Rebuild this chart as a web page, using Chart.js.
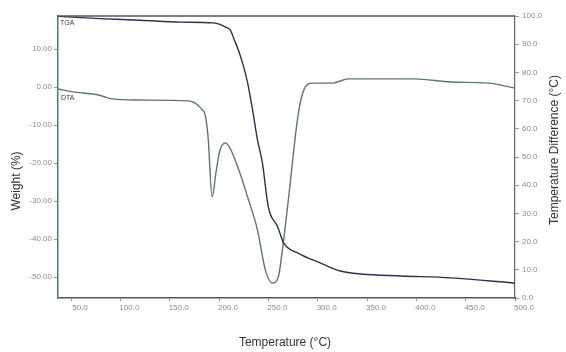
<!DOCTYPE html>
<html><head><meta charset="utf-8">
<script src="https://cdn.jsdelivr.net/npm/chart.js@4/dist/chart.umd.min.js"></script>
<style>html,body{margin:0;padding:0;background:#fff;}#wrap{position:relative;width:566px;height:352px;}</style>
</head><body><div id="wrap"><canvas id="c" width="566" height="352"></canvas></div>
<script>
// ---- data ----
const tgaTemp   = [37, 79.5, 120, 161, 194, 201, 206.5, 211.5, 215.5, 219.5, 225, 229, 234, 239, 244, 250, 259.5, 265.5, 280, 303, 323, 344, 384, 435, 500];
const tgaWeight = [18.6, 18.0, 17.6, 17.1, 16.9, 16.5, 15.8, 15.0, 12.4, 9.8, 5.3, 1.1, -6.0, -13.9, -20.0, -31.6, -36.8, -41.0, -43.7, -46.3, -48.4, -49.2, -49.7, -50.2, -51.6];
const dtaTemp   = [37, 54, 78, 92, 118, 169, 176, 183, 186, 189, 193, 197, 201, 206.5, 212, 221, 229, 239, 247, 254, 260, 265.5, 272.5, 277.5, 281, 286, 295, 315, 331, 364, 398, 435, 473, 499];
const dtaDiff   = [74.1, 73.0, 72.0, 70.6, 70.2, 69.9, 69.1, 66.7, 64.9, 56.7, 35.8, 44.7, 52.5, 55.0, 52.5, 44.5, 35.8, 24.1, 9.9, 5.3, 7.4, 20.6, 41.8, 57.8, 66.7, 73.8, 76.2, 76.2, 77.7, 77.7, 77.7, 76.6, 76.2, 74.5];
const tempTicks   = [50, 100, 150, 200, 250, 300, 350, 400, 450, 500];
const weightTicks = [10, 0, -10, -20, -30, -40, -50];
const diffTicks   = [0, 10, 20, 30, 40, 50, 60, 70, 80, 90, 100];
const seriesNames = ['TGA', 'DTA'];
const xTitle = 'Temperature (°C)';
const yTitle = 'Weight (%)';
const y1Title = 'Temperature Difference (°C)';

const FONT = '"Liberation Sans", Arial, sans-serif';
const toPts = (xs, ys) => xs.map((x, i) => ({x: x, y: ys[i]}));

const titlesPlugin = {
  id: 'titles',
  afterDraw(chart) {
    const ctx = chart.ctx, a = chart.chartArea;
    ctx.save();
    // top frame line
    ctx.strokeStyle = '#555'; ctx.lineWidth = 1.5;
    ctx.beginPath(); ctx.moveTo(a.left - 1, a.top); ctx.lineTo(a.right, a.top); ctx.stroke();
    ctx.fillStyle = '#333';
    ctx.font = '12px ' + FONT;
    ctx.textAlign = 'center'; ctx.textBaseline = 'middle';
    ctx.fillText(xTitle, 285, 343);
    ctx.save(); ctx.translate(17, 181); ctx.rotate(-Math.PI / 2); ctx.fillText(yTitle, 0, 0); ctx.restore();
    ctx.save(); ctx.translate(555, 150); ctx.rotate(-Math.PI / 2); ctx.fillText(y1Title, 0, 0); ctx.restore();
    ctx.font = '7px ' + FONT; ctx.textAlign = 'left'; ctx.fillStyle = '#444';
    ctx.fillText(seriesNames[0], a.left + 2, 23);
    ctx.fillText(seriesNames[1], a.left + 3, 98);
    ctx.restore();
  }
};

new Chart(document.getElementById('c'), {
  type: 'scatter',
  data: {
    datasets: [
      { label: seriesNames[0], data: toPts(tgaTemp, tgaWeight), yAxisID: 'y', showLine: true,
        borderColor: '#2c2f4e', borderWidth: 1.4, pointRadius: 0, cubicInterpolationMode: 'monotone' },
      { label: seriesNames[1], data: toPts(dtaTemp, dtaDiff), yAxisID: 'y1', showLine: true,
        borderColor: '#5d7866', borderWidth: 1.4, pointRadius: 0, cubicInterpolationMode: 'monotone' }
    ]
  },
  options: {
    responsive: false, animation: false, devicePixelRatio: 1,
    layout: { padding: { top: 16, left: 0, right: 0, bottom: 0 } },
    plugins: { legend: { display: false }, tooltip: { enabled: false } },
    scales: {
      x: {
        type: 'linear', position: 'bottom', min: 36.8, max: 500,
        afterFit: s => { s.height = 54; },
        afterBuildTicks: s => { s.ticks = tempTicks.map(v => ({value: v})); },
        ticks: { font: { size: 8, family: FONT }, color: '#8a8a8a', padding: 2, labelOffset: 9,
                 maxRotation: 0, autoSkip: false, callback: v => Number(v).toFixed(1) },
        grid: { drawOnChartArea: false, drawTicks: true, tickLength: 3, color: '#888' },
        border: { color: '#555', width: 1.5 }
      },
      y: {
        type: 'linear', position: 'left', min: -55.5, max: 18.7,
        afterFit: s => { s.width = 58; },
        afterBuildTicks: s => { s.ticks = weightTicks.map(v => ({value: v})); },
        ticks: { font: { size: 8, family: FONT }, color: '#8a8a8a', padding: 2,
                 callback: v => Number(v).toFixed(2) },
        grid: { drawOnChartArea: false, drawTicks: true, tickLength: 4, color: '#999' },
        border: { color: '#3d8a5e', width: 1.5 }
      },
      y1: {
        type: 'linear', position: 'right', min: 0, max: 100,
        afterFit: s => { s.width = 51; },
        afterBuildTicks: s => { s.ticks = diffTicks.map(v => ({value: v})); },
        ticks: { font: { size: 8, family: FONT }, color: '#8a8a8a', padding: 3,
                 callback: v => Number(v).toFixed(1) },
        grid: { drawOnChartArea: false, drawTicks: true, tickLength: 4, color: '#999' },
        border: { color: '#666', width: 1.2 }
      }
    }
  },
  plugins: [titlesPlugin]
});
</script>
</body></html>
